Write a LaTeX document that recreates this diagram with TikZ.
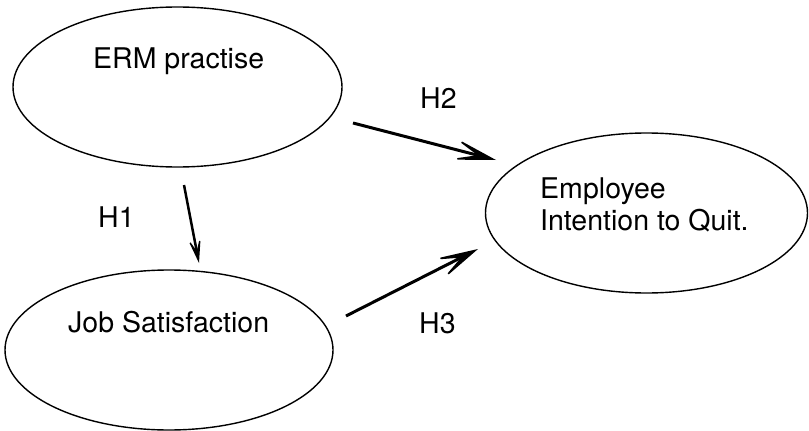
\documentclass[tikz,border=0pt]{standalone}
\usepackage{fontspec}
\setmainfont{TeX Gyre Heros}
\usetikzlibrary{shapes.geometric,arrows.meta}
\begin{document}
\begin{tikzpicture}[x=1pt,y=-1pt,
  oval/.style={draw, ellipse, line width=1.4pt, inner sep=0pt},
  txt/.style={font=\fontsize{28.5}{32}\selectfont, inner sep=0pt, anchor=base west, align=left},
  hypbig/.style={line width=3pt, -{Stealth[length=48pt,width=24pt,inset=29pt,line width=1.6pt]}},
  hypsmall/.style={line width=2.5pt, -{Stealth[length=29pt,width=15pt,inset=17pt,line width=1.3pt]}}]
\useasboundingbox (0,0) rectangle (809,431);
\node[oval, minimum width=329pt, minimum height=160pt] (erm) at (177.5,87) {};
\node[oval, minimum width=328pt, minimum height=160pt] (job) at (169,350) {};
\node[oval, minimum width=322pt, minimum height=160pt] (eiq) at (646.5,213) {};
\node[txt] (ermtxt) at (93,68) {ERM practise};
\node[txt] (jobtxt) at (68,332) {Job Satisfaction};
\node[txt] (eiqtxt) at (540,230) {Employee\\Intention to Quit.};
\node[txt] (h1) at (98,227) {H1};
\node[txt] (h2) at (420,108) {H2};
\node[txt] (h3) at (419,333) {H3};
\coordinate (h1s) at (184,185);
\coordinate (h1e) at (199,263);
\coordinate (h2s) at (353,123);
\coordinate (h2e) at (496,160);
\coordinate (h3s) at (346,316);
\coordinate (h3e) at (478,249);
\draw[hypsmall] (h1s) -- (h1e);
\draw[hypbig] (h2s) -- (h2e);
\draw[hypbig] (h3s) -- (h3e);
\end{tikzpicture}
\end{document}
